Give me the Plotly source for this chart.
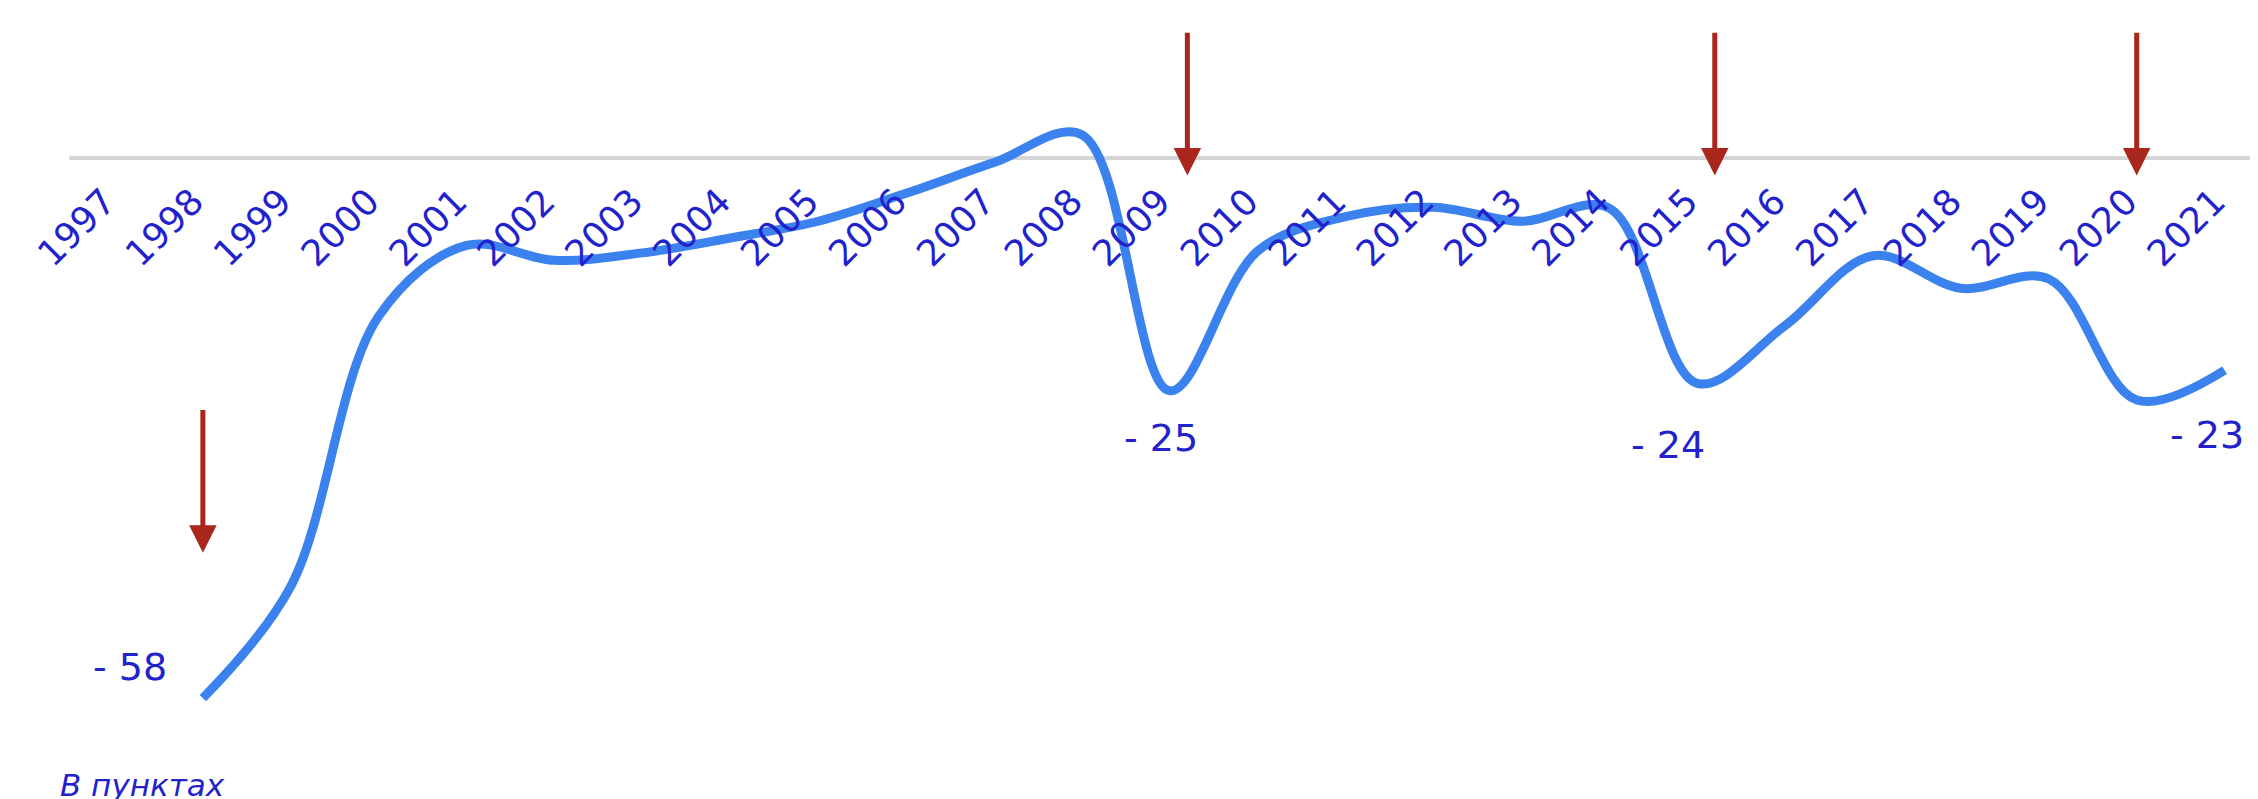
import plotly.graph_objects as go

# ---- data ----
years = list(range(1998, 2022))
values = [-58, -46, -17, -9.4, -11.0, -10.2, -8.6, -6.8, -3.8, -0.5, 2.5,
          -25, -10, -6.3, -5.3, -6.8, -5.4, -24.2, -18.0, -10.5, -14.0, -13.0, -26, -22.8]
tick_years = list(range(1997, 2022))
tick_labels = [str(y) for y in tick_years]

arrow_years = [1998, 2009.2, 2015.2, 2020]
arrow_tails = [-26.9, 13.6, 13.6, 13.6]
arrow_tips = [-42.4, -1.9, -1.9, -1.9]

label_texts = ["- 58", "- 25", "- 24", "- 23"]
label_years = [1998, 2009, 2015, 2021]
label_values = [-58, -25, -24.2, -22.8]
label_shifts = [(-73, 31), (-9, -47), (-29, -62), (-18, -65)]

BLUE_TEXT = "#2222cc"
LINE_BLUE = "#3b82ee"
ARROW_RED = "#a9261d"

fig = go.Figure()
fig.add_trace(go.Scatter(
    x=years, y=values, mode="lines",
    line=dict(color=LINE_BLUE, width=9, shape="spline", smoothing=1.0),
    hoverinfo="skip", showlegend=False,
))

# zero line
fig.add_shape(type="line", xref="x", yref="y", x0=1996.48, x1=2021.6, y0=0, y1=0,
              line=dict(color="#d5d5d5", width=4), layer="below")

for xa, yt, yh in zip(arrow_years, arrow_tails, arrow_tips):
    fig.add_annotation(x=xa, y=yh, ax=xa, ay=yt, axref="x", ayref="y",
                       xref="x", yref="y", text="", showarrow=True,
                       arrowhead=2, arrowsize=1.1, arrowwidth=5, arrowcolor=ARROW_RED)

for t, xv, yv, (dx, dy) in zip(label_texts, label_years, label_values, label_shifts):
    fig.add_annotation(x=xv, y=yv, text=t, showarrow=False, xanchor="center", yanchor="middle",
                       xshift=dx, yshift=dy,
                       font=dict(family="DejaVu Sans", size=38, color=BLUE_TEXT))

fig.add_annotation(x=50 / 2258, y=0.002, xref="paper", yref="paper", xanchor="left", yanchor="bottom",
                   text="В пунктах", showarrow=False,
                   font=dict(family="DejaVu Sans", size=31, color=BLUE_TEXT, style="italic"))

fig.update_layout(
    width=2258, height=799,
    margin=dict(l=0, r=0, t=0, b=0),
    paper_bgcolor="white", plot_bgcolor="white",
    xaxis=dict(range=[1995.783, 2021.471], tickvals=tick_years, ticktext=tick_labels,
               tickangle=-45, showgrid=False, zeroline=False, showline=False, ticks="",
               anchor="free", position=1 - 150 / 799,
               ticklabelstandoff=14, ticklabelshift=-10,
               tickfont=dict(family="DejaVu Sans", size=36, color=BLUE_TEXT)),
    yaxis=dict(range=[-69.7, 16.1], visible=False),
)

fig.write_html("out.html")
